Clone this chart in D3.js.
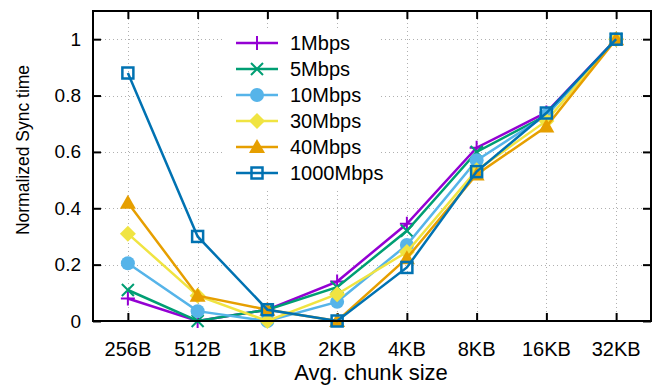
<!DOCTYPE html>
<html>
<head>
<meta charset="utf-8">
<script src="https://cdn.jsdelivr.net/npm/d3@7"></script>
<style>
  body { margin: 0; background: #fff; }
  svg text { font-family: "Liberation Sans", Arial, sans-serif; fill: #000; }
</style>
</head>
<body>
<div id="chart"></div>
<script>
// chunk sizes on the x axis
var categories = ["256B", "512B", "1KB", "2KB", "4KB", "8KB", "16KB", "32KB"];
var yTicks = [0, 0.2, 0.4, 0.6, 0.8, 1];

// normalized sync time, one array per bandwidth
var mbps1    = [0.08, 0.00, 0.04, 0.14, 0.345, 0.615, 0.74, 1];
var mbps5    = [0.11, 0.00, 0.04, 0.12, 0.32, 0.60, 0.73, 1];
var mbps10   = [0.205, 0.035, 0.00, 0.068, 0.27, 0.57, 0.73, 1];
var mbps30   = [0.31, 0.09, 0.00, 0.095, 0.245, 0.535, 0.71, 1];
var mbps40   = [0.42, 0.09, 0.04, 0.00, 0.223, 0.52, 0.69, 1];
var mbps1000 = [0.88, 0.30, 0.04, 0.00, 0.19, 0.53, 0.738, 1];

var seriesNames = ["1Mbps", "5Mbps", "10Mbps", "30Mbps", "40Mbps", "1000Mbps"];
var seriesValues = [mbps1, mbps5, mbps10, mbps30, mbps40, mbps1000];
var colors = ["#9400d3", "#009e73", "#56b4e9", "#f0e442", "#e69f00", "#0072b2"];
var markers = ["plus", "cross", "circle", "diamond", "triangle", "square"];

var width = 661, height = 387;
// plot frame (note: "top" is reserved on window, so use pTop etc.)
var pLeft = 93, pRight = 651, pTop = 11, pBottom = 321;

var svg = d3.select("#chart").append("svg")
  .attr("width", width)
  .attr("height", height);

var x = d3.scaleLinear().domain([-0.5, categories.length - 0.5]).range([pLeft, pRight]);
var y = d3.scaleLinear().domain([0, 1.1]).range([pBottom, pTop]);

// dotted grid
var grid = svg.append("g").attr("stroke", "#b0b0b0").attr("stroke-width", 1).attr("stroke-dasharray", "1,3");
grid.selectAll(".gy").data(yTicks).enter().append("line")
  .attr("x1", pLeft).attr("x2", pRight)
  .attr("y1", function(d) { return Math.round(y(d)) + 0.5; })
  .attr("y2", function(d) { return Math.round(y(d)) + 0.5; });
grid.selectAll(".gx").data(categories).enter().append("line")
  .attr("y1", pTop).attr("y2", pBottom)
  .attr("x1", function(d, i) { return Math.round(x(i)) + 0.5; })
  .attr("x2", function(d, i) { return Math.round(x(i)) + 0.5; });

// axes with inward ticks
var tickLen = 8;
var axisLeft = svg.append("g").attr("transform", "translate(" + pLeft + ",0)")
  .call(d3.axisRight(y).tickValues(yTicks).tickSize(tickLen).tickFormat(""));
var axisRight = svg.append("g").attr("transform", "translate(" + pRight + ",0)")
  .call(d3.axisLeft(y).tickValues(yTicks).tickSize(tickLen).tickFormat(""));
var xIdx = categories.map(function(d, i) { return i; });
var axisBottom = svg.append("g").attr("transform", "translate(0," + pBottom + ")")
  .call(d3.axisTop(x).tickValues(xIdx).tickSize(tickLen).tickFormat(""));
var axisTop = svg.append("g").attr("transform", "translate(0," + pTop + ")")
  .call(d3.axisBottom(x).tickValues(xIdx).tickSize(tickLen).tickFormat(""));
[axisLeft, axisRight, axisBottom, axisTop].forEach(function(a) {
  a.select(".domain").remove();
  a.selectAll(".tick line").attr("stroke", "#000").attr("stroke-width", 2);
});

// tick labels
svg.selectAll(".ylab").data(yTicks).enter().append("text")
  .attr("x", 81).attr("y", function(d) { return y(d) + 6.5; })
  .attr("text-anchor", "end").attr("font-size", 19)
  .text(function(d) { return d3.format("")(d); });
svg.selectAll(".xlab").data(categories).enter().append("text")
  .attr("x", function(d, i) { return x(i); }).attr("y", 356)
  .attr("text-anchor", "middle").attr("font-size", 20)
  .text(function(d) { return d; });

// axis titles
svg.append("text").attr("x", 371).attr("y", 380)
  .attr("text-anchor", "middle").attr("font-size", 22).text("Avg. chunk size");
svg.append("text").attr("transform", "translate(29,150) rotate(-90)")
  .attr("text-anchor", "middle").attr("font-size", 17.5).text("Normalized Sync time");

// marker shapes
function drawMarker(g, type, color, cx, cy) {
  if (type === "plus") {
    g.append("path").attr("d", "M" + (cx - 7) + "," + cy + "H" + (cx + 7) + "M" + cx + "," + (cy - 7) + "V" + (cy + 7))
      .attr("stroke", color).attr("stroke-width", 2).attr("fill", "none");
  } else if (type === "cross") {
    g.append("path").attr("d", "M" + (cx - 6) + "," + (cy - 6) + "L" + (cx + 6) + "," + (cy + 6) + "M" + (cx - 6) + "," + (cy + 6) + "L" + (cx + 6) + "," + (cy - 6))
      .attr("stroke", color).attr("stroke-width", 2).attr("fill", "none");
  } else if (type === "circle") {
    g.append("circle").attr("cx", cx).attr("cy", cy).attr("r", 7).attr("fill", color);
  } else if (type === "diamond") {
    g.append("path").attr("d", "M" + cx + "," + (cy - 8) + "L" + (cx + 8) + "," + cy + "L" + cx + "," + (cy + 8) + "L" + (cx - 8) + "," + cy + "Z").attr("fill", color);
  } else if (type === "triangle") {
    g.append("path").attr("d", "M" + cx + "," + (cy - 8) + "L" + (cx + 8) + "," + (cy + 6) + "L" + (cx - 8) + "," + (cy + 6) + "Z").attr("fill", color);
  } else if (type === "square") {
    g.append("rect").attr("x", cx - 5.5).attr("y", cy - 5.5).attr("width", 11).attr("height", 11)
      .attr("fill", "none").attr("stroke", color).attr("stroke-width", 2.5);
  }
}

// legend background hides grid
var legRow = 26;
svg.append("rect").attr("x", 222).attr("y", 29).attr("width", 157).attr("height", 160).attr("fill", "#fff");

var line = d3.line()
  .x(function(d, i) { return x(i); })
  .y(function(d) { return y(d); });

var plot = svg.append("g");
seriesValues.forEach(function(vals, s) {
  var g = plot.append("g");
  g.append("path").datum(vals).attr("d", line)
    .attr("fill", "none").attr("stroke", colors[s]).attr("stroke-width", 2.5);
  vals.forEach(function(v, i) { drawMarker(g, markers[s], colors[s], x(i), y(v)); });

  // legend entry
  var ly = 43 + s * legRow;
  g.append("line").attr("x1", 236).attr("x2", 278).attr("y1", ly).attr("y2", ly)
    .attr("stroke", colors[s]).attr("stroke-width", 2.5);
  drawMarker(g, markers[s], colors[s], 257, ly);
  g.append("text").attr("x", 290).attr("y", ly + 7).attr("font-size", 20).text(seriesNames[s]);
});

// frame
svg.append("rect").attr("x", pLeft).attr("y", pTop).attr("width", pRight - pLeft).attr("height", pBottom - pTop)
  .attr("fill", "none").attr("stroke", "#000").attr("stroke-width", 2);
</script>
</body>
</html>
